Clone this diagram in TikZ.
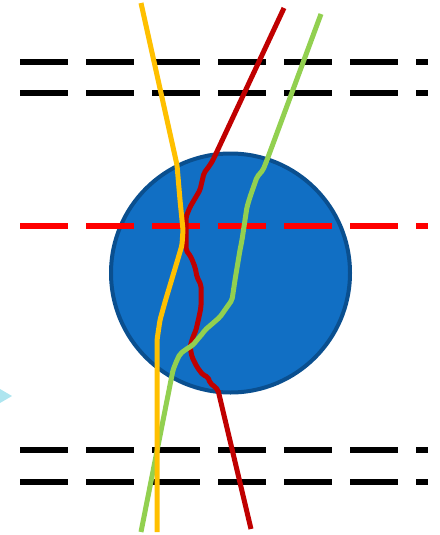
\documentclass[tikz,border=0pt]{standalone}
\usetikzlibrary{calc}
\definecolor{cyel}{HTML}{FFC000}
\definecolor{cred}{HTML}{C00000}
\definecolor{cgrn}{HTML}{92D050}
\definecolor{cblue}{HTML}{116FC4}
\definecolor{cblueedge}{HTML}{0A4F8F}
\definecolor{cdash}{HTML}{FF0000}
\definecolor{ccyan}{HTML}{ADE5EF}
\tikzset{
  blackdash/.style={line width=6pt, black, dash pattern=on 48pt off 18pt},
  reddash/.style={line width=6pt, cdash, dash pattern=on 48pt off 18pt},
  ray/.style={line width=5pt, line join=round, rounded corners=2pt},
}
\begin{document}
\begin{tikzpicture}[x=1pt,y=-1pt]
\useasboundingbox (0,0) rectangle (439,535);
% sphere
\fill[cblue, draw=cblueedge, line width=4pt] (230.5,273) circle (119.5);
% arrowhead remnant
\fill[ccyan] (0,389) -- (12,396) -- (0,403) -- cycle;
% dashed lines
\coordinate (l1a) at (20,62);  \coordinate (l1b) at (428,62);
\coordinate (l2a) at (20,93);  \coordinate (l2b) at (428,93);
\coordinate (l3a) at (20,450); \coordinate (l3b) at (428,450);
\coordinate (l4a) at (20,482); \coordinate (l4b) at (428,482);
\coordinate (rma) at (20,226); \coordinate (rmb) at (428,226);
\draw[blackdash] (l1a) -- (l1b);
\draw[blackdash] (l2a) -- (l2b);
\draw[blackdash] (l3a) -- (l3b);
\draw[blackdash] (l4a) -- (l4b);
\draw[reddash] (rma) -- (rmb);
% red ray
\draw[ray, cred] (284,8) -- (213,160) -- (210,165) -- (204,173) -- (200,190) -- (190,207)
  -- (186,217) -- (186,250) -- (191,257) -- (195,267) -- (197,277) -- (201,285)
  -- (201,307) -- (199,317) -- (196,330) -- (193,337) -- (190,347) -- (192,357)
  -- (197,367) -- (203,375) -- (208,377) -- (210,383) -- (215,387) -- (218,390) -- (251,529);
% green ray
\draw[ray, cgrn] (321,14) -- (267,160) -- (263,170) -- (257,177) -- (250,197) -- (247,207)
  -- (245,220) -- (242,240) -- (240,250) -- (235,280) -- (232,300) -- (227,307)
  -- (220,317) -- (212,324) -- (205,330) -- (203,333) -- (197,340) -- (193,345)
  -- (185,350) -- (180,354) -- (177,360) -- (173,370) -- (141,532);
% yellow ray
\draw[ray, cyel] (141,3) -- (177,165) -- (180,200) -- (183,230) -- (182,245) -- (177,262)
  -- (171,282) -- (165,302) -- (160,320) -- (157,340) -- (157,380) -- (157,532);
\end{tikzpicture}
\end{document}
